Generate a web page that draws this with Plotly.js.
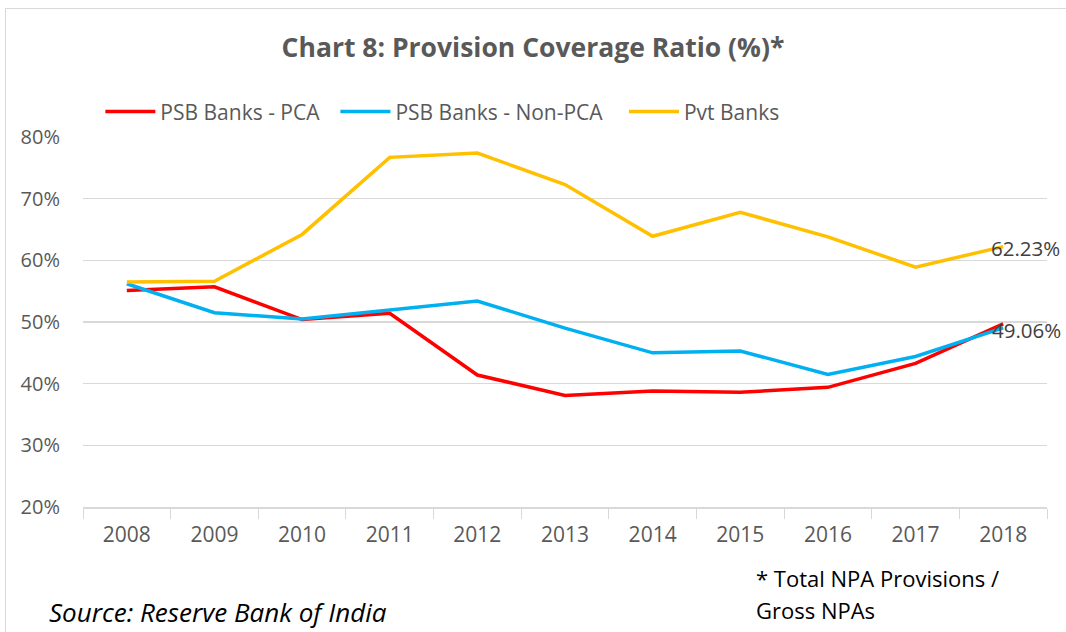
<!DOCTYPE html>
<html>
<head>
<meta charset="utf-8">
<script src="https://cdn.plot.ly/plotly-3.0.1.min.js"></script>
<style>
  html, body { margin: 0; padding: 0; background: #fff; }
  #frame { position: absolute; left: 5px; top: 8px; width: 1070px; height: 640px; border: 1px solid #d9d9d9; box-sizing: border-box; }
  #chart { position: absolute; left: 0; top: 0; width: 1066px; height: 632px; }
</style>
</head>
<body>
<div id="frame"></div>
<div id="chart"></div>
<script>
const years = ['2008','2009','2010','2011','2012','2013','2014','2015','2016','2017','2018'];
const psbPCA    = [55.1, 55.7, 50.4, 51.4, 41.4, 38.1, 38.8, 38.6, 39.4, 43.3, 49.7];
const psbNonPCA = [56.2, 51.5, 50.5, 51.9, 53.4, 49.0, 45.0, 45.3, 41.5, 44.4, 49.06];
const pvtBanks  = [56.5, 56.6, 64.2, 76.7, 77.4, 72.3, 63.9, 67.8, 63.8, 58.9, 62.23];
const seriesNames = ['PSB Banks - PCA', 'PSB Banks - Non-PCA', 'Pvt Banks'];
const yTicks = [20, 30, 40, 50, 60, 70, 80];

// trailing no-break spaces only widen the gap between legend entries
const pad = n => '\u00a0'.repeat(n);

const traces = [
  {x: years, y: psbPCA, name: seriesNames[0] + pad(2), type: 'scatter', mode: 'lines',
   line: {color: '#FF0000', width: 3.5}},
  {x: years, y: psbNonPCA, name: seriesNames[1] + pad(3), type: 'scatter', mode: 'lines',
   line: {color: '#00B0F0', width: 3.5}},
  {x: years, y: pvtBanks, name: seriesNames[2], type: 'scatter', mode: 'lines',
   line: {color: '#FFC000', width: 3.5}}
];

const last = years.length - 1;
const font = 'Open Sans, Liberation Sans, sans-serif';

const layout = {
  width: 1066, height: 632,
  margin: {l: 83, r: 19, t: 137, b: 125},
  paper_bgcolor: 'rgba(0,0,0,0)',
  plot_bgcolor: 'rgba(0,0,0,0)',
  font: {family: font, color: '#595959'},
  title: {text: '<b>Chart 8: Provision Coverage Ratio (%)*</b>', x: 0.5, xanchor: 'center', y: 0.925, yanchor: 'middle',
          font: {family: font, size: 26.5, color: '#595959'}},
  showlegend: true,
  legend: {orientation: 'h', x: 0.018, xanchor: 'left', y: 1.068, yanchor: 'middle',
           font: {family: font, size: 21, color: '#595959'}, tracegroupgap: 0, itemwidth: 50},
  xaxis: {type: 'category', tickson: 'boundaries', ticks: 'outside', ticklen: 10, tickcolor: '#d9d9d9',
          showline: true, linecolor: '#d9d9d9', linewidth: 1.5, showgrid: false, zeroline: false,
          tickfont: {family: font, size: 21, color: '#595959'}, ticklabelstandoff: 8,
          range: [-0.5, 10.5], fixedrange: true},
  yaxis: {range: [20, 80], tickvals: yTicks, ticktext: yTicks.map(v => v + '%'),
          showgrid: true, gridcolor: '#d9d9d9', gridwidth: 1.5, zeroline: false, showline: false,
          tickfont: {family: font, size: 20, color: '#595959'}, ticklabelstandoff: 22, fixedrange: true},
  annotations: [
    {x: last, y: pvtBanks[last], xref: 'x', yref: 'y', text: pvtBanks[last].toFixed(2) + '%',
     showarrow: false, xanchor: 'left', yanchor: 'middle', xshift: -14, yshift: -1,
     font: {family: font, size: 20.5, color: '#404040'}},
    {x: last, y: psbNonPCA[last], xref: 'x', yref: 'y', text: psbNonPCA[last].toFixed(2) + '%',
     showarrow: false, xanchor: 'left', yanchor: 'middle', xshift: -13, yshift: -2,
     font: {family: font, size: 20.5, color: '#404040'}},
    {x: 754, y: 578, xref: 'paper', yref: 'paper', text: '* Total NPA Provisions /', showarrow: false},
    {x: 754, y: 610, xref: 'paper', yref: 'paper', text: 'Gross NPAs', showarrow: false},
    {x: 47, y: 612, xref: 'paper', yref: 'paper', text: '<i>Source: Reserve Bank of India</i>', showarrow: false}
  ]
};

// convert pixel positions for footer annotations into paper coordinates
const pw = 1066 - 83 - 19, ph = 632 - 137 - 125;
layout.annotations.slice(2).forEach((a, i) => {
  const px = a.x, py = a.y;
  a.x = (px - 83) / pw;
  a.y = (507 - py) / ph;
  a.xanchor = 'left';
  a.yanchor = 'middle';
  a.font = {family: font, size: i === 2 ? 26 : 22, color: '#000000'};
});

Plotly.newPlot('chart', traces, layout, {displayModeBar: false, staticPlot: true});
</script>
</body>
</html>
